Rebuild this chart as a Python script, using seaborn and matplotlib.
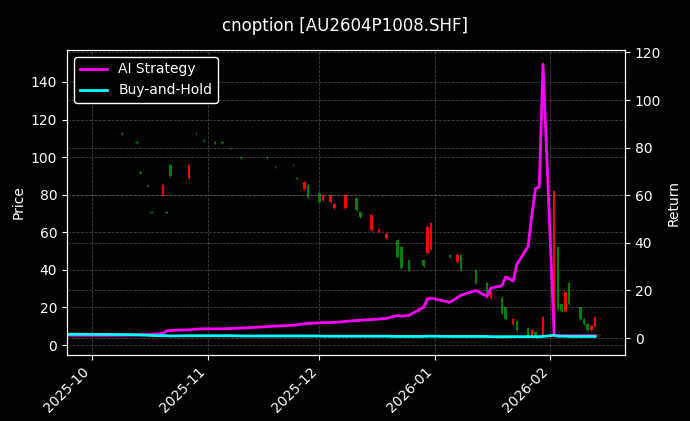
import numpy as np
import pandas as pd
import matplotlib
matplotlib.use("Agg")
import matplotlib.pyplot as plt
import matplotlib.dates as mdates
import seaborn as sns

plt.style.use("dark_background")

# 数据
dates = ["2025-09-24", "2025-09-25", "2025-09-26", "2025-09-29", "2025-09-30",
         "2025-10-09", "2025-10-13", "2025-10-14", "2025-10-16", "2025-10-17",
         "2025-10-20", "2025-10-21", "2025-10-22", "2025-10-27", "2025-10-29",
         "2025-10-31", "2025-11-03", "2025-11-05", "2025-11-07", "2025-11-10",
         "2025-11-17", "2025-11-19", "2025-11-24", "2025-11-25", "2025-11-27",
         "2025-11-28", "2025-12-01", "2025-12-02", "2025-12-04", "2025-12-05",
         "2025-12-08", "2025-12-11", "2025-12-12", "2025-12-15", "2025-12-17",
         "2025-12-19", "2025-12-22", "2025-12-23", "2025-12-25", "2025-12-29",
         "2025-12-30", "2025-12-31", "2026-01-05", "2026-01-07", "2026-01-08",
         "2026-01-12", "2026-01-15", "2026-01-16", "2026-01-19", "2026-01-20",
         "2026-01-22", "2026-01-23", "2026-01-26", "2026-01-27", "2026-01-28",
         "2026-01-29", "2026-01-30", "2026-02-02", "2026-02-03", "2026-02-04",
         "2026-02-05", "2026-02-06", "2026-02-09", "2026-02-10", "2026-02-11",
         "2026-02-12", "2026-02-13"]
nan = np.nan
open_ = [nan, nan, nan, nan, nan,
         112.8, 108, 92, 85, 70.8,
         80, 70.8, 96, 89, 113,
         109, 108, 108, 105, 100,
         100, 95, 96, 89, 83,
         85, 81, 77, 76, 73,
         73, 78, 71, 61, 60,
         57, 56, 52, 45, 45,
         49, 51, 48, 44, 48,
         40, 33, 25, 25, 20,
         11, 13, 9, 5, 7,
         nan, 5, 5, 52, 22,
         18, 33, 20, 14, 11,
         8, 10]
close = [nan, nan, nan, nan, nan,
         112.4, 107.6, 91.6, 84.6, 70.4,
         85, 70.4, 90, 96, 112.6,
         108.6, 107.6, 107.6, 104.6, 99.6,
         99.6, 94.6, 95.6, 88.6, 87,
         79, 76, 80, 80, 75,
         80, 72, 68, 69, 62,
         59, 47, 41, 40, 42,
         63, 65, 47, 48, 40,
         33, 26, 28, 17, 14,
         14, 8, 5, 8, 4,
         nan, 15, 82, 19, 18,
         28, 22, 14, 11, 8,
         10, 15]
high = [nan, nan, nan, nan, nan,
        113.2, 108.4, 92.4, 85.4, 71.2,
        85.5, 71.2, 96.5, 96.5, 113.4,
        109.4, 108.4, 108.4, 105.4, 100.4,
        100.4, 95.4, 96.4, 89.4, 87.5,
        85.5, 81.5, 80.5, 80.5, 75.5,
        80.5, 78.5, 71.5, 69.5, 62.5,
        59.5, 56.5, 52.5, 45.5, 45.5,
        63.5, 65.5, 48.5, 48.5, 48.5,
        40.5, 33.5, 28.5, 25.5, 20.5,
        14.5, 13.5, 9.5, 8.5, 7.5,
        nan, 15.5, 82.5, 52.5, 22.5,
        28.5, 33.5, 20.5, 14.5, 11.5,
        10.5, 15.5]
low = [nan, nan, nan, nan, nan,
       112.0, 107.2, 91.2, 84.2, 70.0,
       79.5, 70.0, 89.5, 88.5, 112.2,
       108.2, 107.2, 107.2, 104.2, 99.2,
       99.2, 94.2, 95.2, 88.2, 82.5,
       78.5, 75.5, 76.5, 75.5, 72.5,
       72.5, 71.5, 67.5, 60.5, 59.5,
       56.5, 46.5, 40.5, 39.5, 41.5,
       48.5, 50.5, 46.5, 43.5, 39.5,
       32.5, 25.5, 24.5, 16.5, 13.5,
       10.5, 7.5, 4.5, 4.5, 3.5,
       nan, 4.5, 4.5, 18.5, 17.5,
       17.5, 21.5, 13.5, 10.5, 7.5,
       7.5, 9.5]
ai_return = [1.2, 1.2, 1.2, 1.2, 1.2, 1.2, 1.3, 1.4, 1.5, 1.6,
             2.0, 3.0, 3.2, 3.5, 3.8, 3.9, 3.9, 3.9, 4.0, 4.2,
             4.8, 5.0, 5.4, 5.6, 6.0, 6.2, 6.4, 6.5, 6.5, 6.6,
             7.0, 7.4, 7.5, 7.8, 8.0, 8.3, 9.5, 9.2, 9.5, 13.0,
             16.5, 16.8, 15.0, 17.0, 18.0, 20.0, 17.5, 21.0, 22.0, 25.7,
             24.0, 31.0, 38.5, 51.6, 62.8, 63.5, 115.0, 1.2, 1.0, 1.0,
             1.0, 1.0, 1.0, 1.0, 1.0, 1.0, 1.0]
bh_return = [1.6, 1.6, 1.6, 1.6, 1.6, 1.5, 1.4, 1.3, 1.2, 1.1,
             1.0, 1.0, 0.9, 1.0, 1.0, 1.0, 1.0, 1.0, 1.0, 0.9,
             0.9, 0.9, 0.9, 0.9, 0.9, 0.9, 0.9, 0.8, 0.8, 0.8,
             0.8, 0.8, 0.8, 0.8, 0.8, 0.8, 0.7, 0.7, 0.7, 0.7,
             0.8, 0.8, 0.7, 0.7, 0.7, 0.7, 0.7, 0.6, 0.6, 0.6,
             0.6, 0.6, 0.6, 0.6, 0.6, 0.6, 0.7, 1.2, 0.8, 0.8,
             0.8, 0.7, 0.7, 0.7, 0.7, 0.7, 0.7]

df = pd.DataFrame({"date": pd.to_datetime(dates), "open": open_, "close": close,
                   "high": high, "low": low, "ai": ai_return, "bh": bh_return})

fig = plt.figure(figsize=(6.9, 4.21), dpi=100)
ax = fig.add_axes([67 / 690, 66 / 421, 558 / 690, 305 / 421])
ax2 = ax.twinx()

# K线
price = df.dropna(subset=["open"])
up = price["close"] >= price["open"]
colors = np.where(up, "red", "green")
ax.vlines(price["date"], price["low"], price["high"], colors=colors, linewidth=0.8)
ax.bar(price["date"], (price["close"] - price["open"]).abs().clip(lower=0.4),
       bottom=price[["open", "close"]].min(axis=1), width=0.7, color=colors)
ax.set_ylim(-5.3, 157)
ax.set_ylabel("Price")
ax.grid(True, linestyle="--", color="gray", alpha=0.5, linewidth=0.6)

# 收益曲线
sns.lineplot(data=df, x="date", y="ai", ax=ax2, color="magenta", linewidth=2, label="AI Strategy")
sns.lineplot(data=df, x="date", y="bh", ax=ax2, color="cyan", linewidth=2, label="Buy-and-Hold")
ax2.set_ylim(-7.1, 121)
ax2.set_ylabel("Return")
ax2.set_xlabel("")
ax2.grid(True, linestyle="--", color="gray", alpha=0.5, linewidth=0.6)
ax2.legend(loc="upper left", facecolor="black", edgecolor="white", framealpha=1)

ax.set_xlim(pd.Timestamp("2025-09-24 07:00"), pd.Timestamp("2026-02-21"))
ax.xaxis.set_major_locator(mdates.MonthLocator())
ax.xaxis.set_major_formatter(mdates.DateFormatter("%Y-%m"))
plt.setp(ax.get_xticklabels(), rotation=45, ha="right")

fig.suptitle("cnoption [AU2604P1008.SHF]", y=0.96)
fig.savefig("out.png", dpi=100)
